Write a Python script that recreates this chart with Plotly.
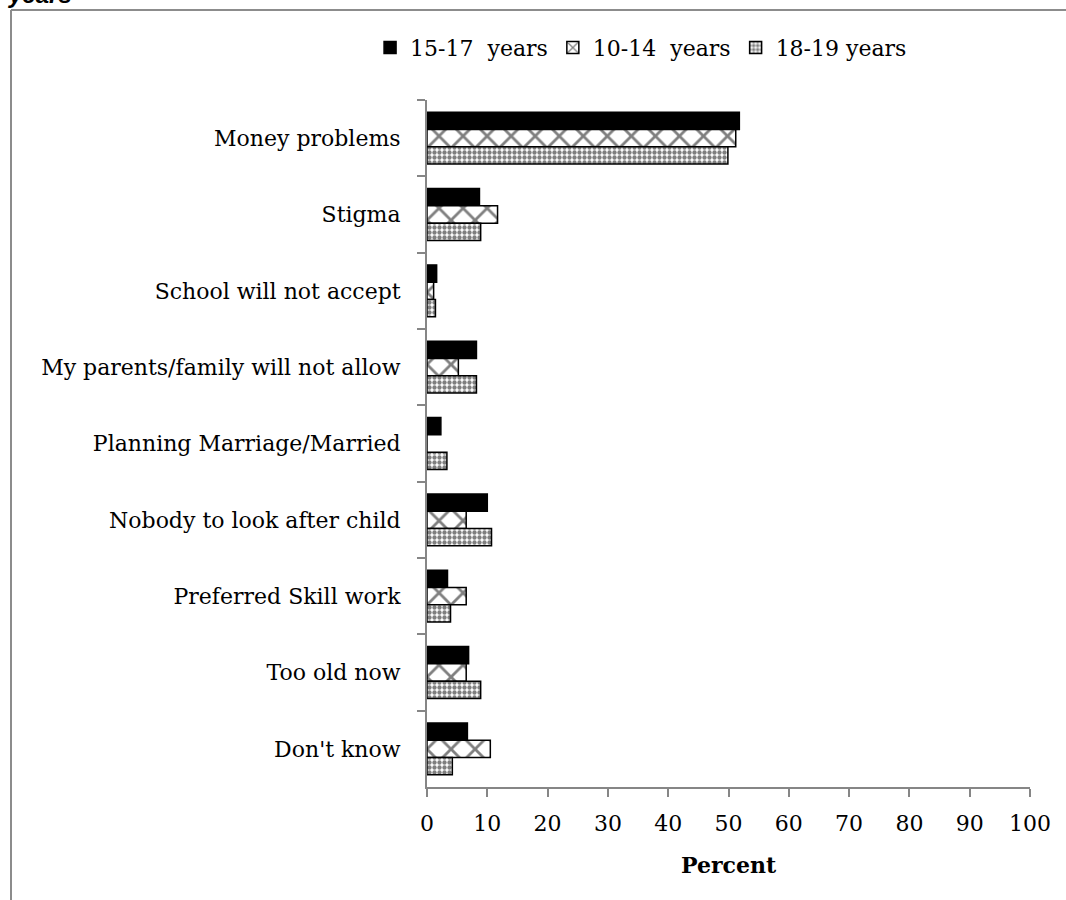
import plotly.graph_objects as go

categories = [
    "Money problems",
    "Stigma",
    "School will not accept",
    "My parents/family will not allow",
    "Planning Marriage/Married",
    "Nobody to look after child",
    "Preferred Skill work",
    "Too old now",
    "Don't know",
]

age_15_17 = [51.8, 8.7, 1.6, 8.2, 2.3, 10.0, 3.4, 6.9, 6.7]
age_10_14 = [51.2, 11.7, 1.1, 5.2, 0.0, 6.5, 6.5, 6.5, 10.5]
age_18_19 = [49.9, 8.9, 1.4, 8.2, 3.3, 10.7, 3.9, 8.9, 4.2]

series_names = ["15-17\u00a0\u00a0years", "10-14\u00a0\u00a0years", "18-19 years"]

x_ticks = list(range(0, 101, 10))

FONT = "DejaVu Serif"
FONT_SIZE = 22
AXIS_GREY = "#868686"

fig = go.Figure()

fig.add_trace(go.Bar(
    name=series_names[0], y=categories, x=age_15_17, orientation="h",
    marker=dict(color="black", line=dict(color="black", width=1.5)),
))
fig.add_trace(go.Bar(
    name=series_names[1], y=categories, x=age_10_14, orientation="h",
    marker=dict(
        color="white",
        line=dict(color="black", width=1.5),
        pattern=dict(shape="x", size=17, solidity=0.3,
                     fgcolor="black", bgcolor="white", fillmode="overlay"),
    ),
))
fig.add_trace(go.Bar(
    name=series_names[2], y=categories, x=age_18_19, orientation="h",
    marker=dict(
        color="white",
        line=dict(color="black", width=1.5),
        pattern=dict(shape=".", size=5, solidity=0.6,
                     fgcolor="black", bgcolor="white", fillmode="overlay"),
    ),
))

# outer frame (top and left edges visible)
fig.add_shape(type="line", xref="paper", yref="paper",
              x0=(11 - 427) / 603, x1=(1070 - 427) / 603,
              y0=(787 - 10) / 687, y1=(787 - 10) / 687,
              line=dict(color="#8c8c8c", width=2))
fig.add_shape(type="line", xref="paper", yref="paper",
              x0=(11 - 427) / 603, x1=(11 - 427) / 603,
              y0=(787 - 10) / 687, y1=(787 - 905) / 687,
              line=dict(color="#8c8c8c", width=2))

# tail of the caption above the frame
fig.add_annotation(
    text="years", xref="paper", yref="paper",
    x=(6 - 427) / 603, y=(787 - 10) / 687,
    xanchor="left", yanchor="bottom", showarrow=False,
    font=dict(family="Liberation Sans", size=24, color="black",
              weight="bold", style="italic"),
)

fig.update_layout(
    width=1066, height=900,
    margin=dict(l=427, r=36, t=100, b=113),
    paper_bgcolor="white", plot_bgcolor="white",
    barmode="group", bargap=0.32, bargroupgap=0,
    font=dict(family=FONT, size=FONT_SIZE, color="black"),
    legend=dict(
        orientation="h", x=0.355, y=1.076,
        xanchor="center", yanchor="middle",
        font=dict(family=FONT, size=FONT_SIZE, color="black"),
        traceorder="normal", itemwidth=30,
    ),
    showlegend=True,
)

fig.update_yaxes(
    categoryorder="array", categoryarray=categories,
    autorange="reversed",
    showline=True, linecolor=AXIS_GREY, linewidth=2,
    ticks="outside", tickson="boundaries", ticklen=8,
    tickcolor=AXIS_GREY, tickwidth=2,
    ticklabelstandoff=20,
    showgrid=False, zeroline=False,
    tickfont=dict(family=FONT, size=FONT_SIZE, color="black"),
)
fig.update_xaxes(
    range=[0, 100], tickvals=x_ticks, ticktext=[str(v) for v in x_ticks],
    showline=True, linecolor=AXIS_GREY, linewidth=2,
    ticks="outside", ticklen=8, tickcolor=AXIS_GREY, tickwidth=2,
    ticklabelstandoff=8,
    showgrid=False, zeroline=False,
    tickfont=dict(family=FONT, size=FONT_SIZE, color="black"),
    title=dict(text="<b>Percent</b>", standoff=22,
               font=dict(family=FONT, size=FONT_SIZE, color="black")),
)

fig.write_html("out.html")
